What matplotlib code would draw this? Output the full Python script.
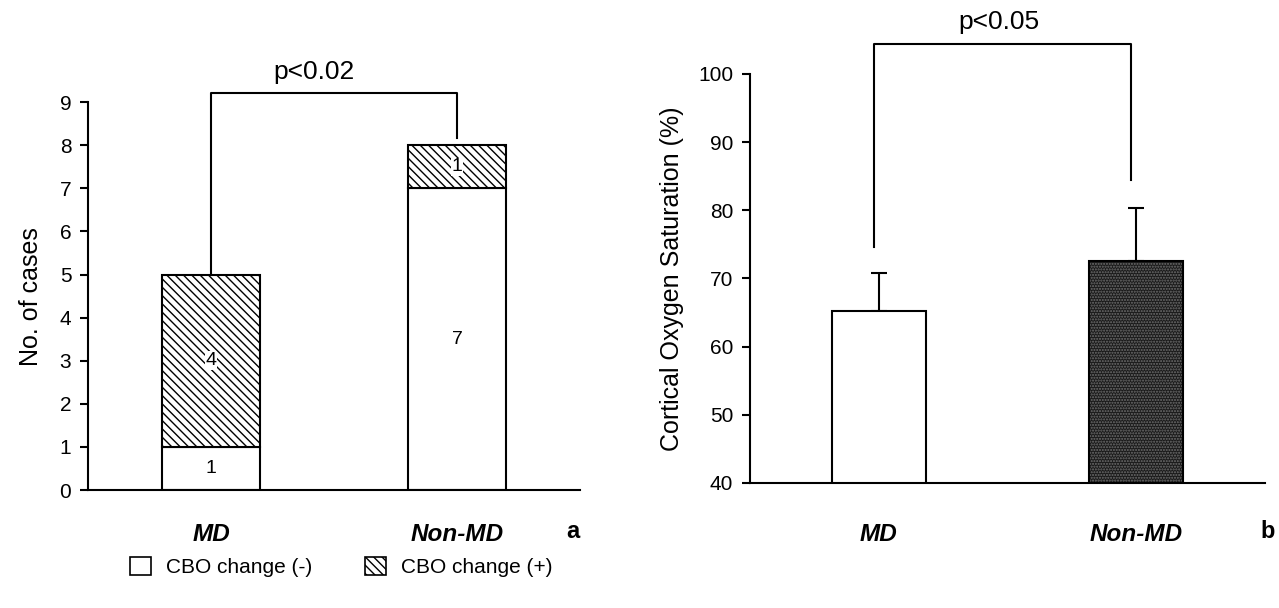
import numpy as np
import matplotlib
matplotlib.use("Agg")
import matplotlib.pyplot as plt
from matplotlib.patches import Patch

plt.rcParams['font.family'] = ['Liberation Sans', 'DejaVu Sans']
plt.rcParams['hatch.linewidth'] = 1.0

groups = ["MD", "Non-MD"]
# panel a: number of cases
cbo_neg = [1, 7]
cbo_pos = [4, 1]
# panel b: cortical oxygen saturation
sat_mean = [65.3, 72.6]
sat_sd = [5.5, 7.8]

fig = plt.figure(figsize=(12.79, 6.08), dpi=100)
ax1 = fig.add_axes([0.0688, 0.194, 0.3847, 0.638])
ax2 = fig.add_axes([0.5864, 0.2056, 0.4027, 0.6727])

x = np.arange(len(groups))

# ---- panel a
ax1.bar(x, cbo_neg, width=0.4, color="white", edgecolor="black", lw=1.5)
ax1.bar(x, cbo_pos, width=0.4, bottom=cbo_neg, color="white",
        edgecolor="black", lw=1.5, hatch="\\\\\\\\")
for i in range(len(groups)):
    ax1.text(x[i], cbo_neg[i] / 2, str(cbo_neg[i]), ha="center", va="center", fontsize=14)
    ax1.text(x[i], cbo_neg[i] + cbo_pos[i] / 2, str(cbo_pos[i]), ha="center", va="center",
             fontsize=14, bbox=dict(facecolor="white", edgecolor="none", pad=0.5))

ax1.set_xlim(-0.5, 1.5)
ax1.set_ylim(0, 9)
ax1.set_yticks(range(0, 10))
ax1.set_ylabel("No. of cases", fontsize=18, labelpad=12)
ax1.plot([0, 0, 1, 1], [5, 9.21, 9.21, 8.17], color="black", lw=1.5, clip_on=False)
ax1.text(0.42, 9.70, "p<0.02", ha="center", va="center", fontsize=19)

# ---- panel b
ax2.bar(x[:1], sat_mean[:1], width=0.366, color="white", edgecolor="black", lw=1.5, zorder=2)
ax2.bar(x[1:], sat_mean[1:], width=0.366, color="#1a1a1a", edgecolor="#707070",
        lw=0, hatch="......", zorder=2)
ax2.bar(x[1:], sat_mean[1:], width=0.366, fill=False, edgecolor="black", lw=1.5, zorder=3)
ax2.errorbar(x, sat_mean, yerr=[[0, 0], sat_sd], fmt="none", ecolor="black",
             elinewidth=1.5, capsize=6, capthick=1.5, zorder=1)

ax2.set_xlim(-0.5, 1.5)
ax2.set_ylim(40, 100)
ax2.set_yticks(range(40, 101, 10))
ax2.set_ylabel("Cortical Oxygen Saturation (%)", fontsize=18, labelpad=10)
ax2.plot([-0.02, -0.02, 0.98, 0.98], [74.6, 104.4, 104.4, 84.4], color="black", lw=1.5, clip_on=False)
ax2.text(0.467, 107.6, "p<0.05", ha="center", va="center", fontsize=19)

for ax, tag, xpad in [(ax1, "a", 24), (ax2, "b", 28.5)]:
    ax.spines["top"].set_visible(False)
    ax.spines["right"].set_visible(False)
    ax.spines["left"].set_linewidth(1.5)
    ax.spines["bottom"].set_linewidth(1.5)
    ax.tick_params(axis="y", direction="out", length=6, width=1.5, labelsize=15, pad=6)
    ax.set_xticks(x)
    ax.set_xticklabels(groups, fontsize=17.5, fontweight="bold", fontstyle="italic")
    ax.tick_params(axis="x", length=0, pad=xpad)

fig.text(573 / 1279, 1 - 532 / 608, "a", ha="center", va="center", fontsize=17, fontweight="bold")
fig.text(1268 / 1279, 1 - 532 / 608, "b", ha="center", va="center", fontsize=17, fontweight="bold")

handles = [Patch(facecolor="white", edgecolor="black", lw=1.2),
           Patch(facecolor="white", edgecolor="black", lw=1.2, hatch="\\\\\\\\")]
fig.legend(handles, ["CBO change (-)", "CBO change (+)"], ncol=2, loc="center left",
           bbox_to_anchor=(130 / 1279, 1 - 567 / 608), frameon=False, fontsize=15,
           handlelength=1.0, handleheight=1.0, handletextpad=0.75, columnspacing=2.5,
           borderaxespad=0, borderpad=0)

fig.savefig("out.png", dpi=100)
